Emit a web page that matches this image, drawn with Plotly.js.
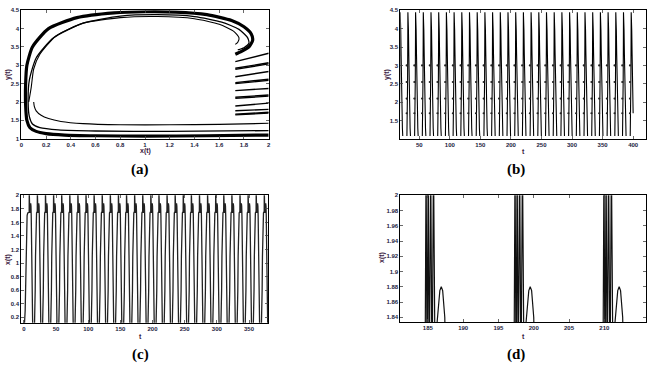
<!DOCTYPE html>
<html>
<head>
<meta charset="utf-8">
<script src="https://cdn.plot.ly/plotly-3.0.1.min.js"></script>
<style>
html, body { margin: 0; padding: 0; background: #fff; }
#chart { width: 662px; height: 368px; }
</style>
</head>
<body>
<div id="chart"></div>
<script>
// (a) phase plane: y(t) against x(t)
const A_OUTER_X = [2.0, 1.5, 1.0, 0.6, 0.35, 0.2, 0.12, 0.07, 0.045, 0.035, 0.035, 0.045, 0.09, 0.22, 0.45, 0.75, 1.0, 1.25, 1.5, 1.7, 1.8, 1.86, 1.87, 1.84, 1.78, 1.73];
const A_OUTER_Y = [1.10, 1.08, 1.07, 1.08, 1.10, 1.14, 1.2, 1.3, 1.5, 1.9, 2.5, 3.0, 3.5, 4.0, 4.3, 4.43, 4.46, 4.45, 4.38, 4.22, 4.05, 3.85, 3.68, 3.5, 3.38, 3.30];
const A_MID_X = [2.0, 1.2, 0.6, 0.3, 0.15, 0.09, 0.065, 0.055, 0.065, 0.12, 0.26, 0.5, 0.8, 1.1, 1.4, 1.62, 1.76, 1.83, 1.84, 1.80, 1.75];
const A_MID_Y = [1.22, 1.20, 1.21, 1.24, 1.3, 1.4, 1.6, 2.0, 2.6, 3.2, 3.75, 4.15, 4.34, 4.38, 4.33, 4.18, 3.98, 3.75, 3.6, 3.48, 3.42];
const A_INNER_X = [0.06, 0.08, 0.1, 0.15, 0.28, 0.5, 0.8, 1.1, 1.4, 1.6, 1.72, 1.76, 1.75, 1.73];
const A_INNER_Y = [2.0, 2.4, 2.9, 3.3, 3.8, 4.15, 4.3, 4.33, 4.27, 4.12, 3.92, 3.75, 3.63, 3.57];
const A_START_X = [0.1, 0.105, 0.12, 0.16, 0.22, 0.32, 0.5, 0.8, 1.2, 1.6, 2.0];
const A_START_Y = [2.0, 1.88, 1.76, 1.64, 1.55, 1.47, 1.41, 1.38, 1.38, 1.39, 1.42];
// short jumps leaving x = 1.73 towards the right border
const A_JUMP_Y0 = [3.10, 2.92, 2.89, 2.69, 2.53, 2.50, 2.31, 2.13, 2.10, 1.89, 1.76, 1.67, 1.65];
const A_JUMP_Y1 = [3.33, 3.07, 3.04, 2.83, 2.62, 2.59, 2.37, 2.19, 2.16, 1.97, 1.80, 1.72, 1.70];
const A_JUMP_X = [1.73, 2.0];

// start of every burst of impulses (t), shared by (b), (c), (d)
const BURSTS = [8.2, 20.8, 33.4, 46.0, 58.6, 71.2, 83.8, 96.4, 109.0, 121.6, 134.2, 146.8, 159.4, 172.0,
    184.6, 197.2, 209.8, 222.4, 235.0, 247.6, 260.2, 272.8, 285.4, 298.0, 310.6, 323.2, 335.8, 348.4,
    361.0, 373.6, 386.2, 398.8];

// (b) one tooth of y(t), offsets from the burst start
const B_DT = [-3.6, -3.0, -2.5, -2.2, -2.0, -1.6, -1.1, -0.5, 0, 0.4, 0.8, 1.2, 1.6, 2.2];
const B_Y  = [1.08, 1.6, 2.6, 3.6, 4.45, 4.3, 3.95, 3.3, 3.0, 2.55, 2.1, 1.7, 1.3, 1.08];
const B_END = 400;
// isolated points left by the impulses
const B_DOT_DT = [-4.0, -4.0, -4.0, -4.0];
const B_DOT_Y  = [3.0, 2.55, 2.1, 1.7];

// (c) and (d) one cycle of x(t), offsets from the burst start
const C_DT = [0, 0.15, 0.3, 0.45, 0.6, 0.8, 1.0, 1.2, 1.4, 1.8, 2.1, 2.3, 2.5, 2.8, 3.2, 3.6, 4.0, 4.4, 4.9, 5.5, 6.2, 6.9, 7.6, 8.3, 8.9, 9.4, 9.9, 10.4, 10.9, 11.5, 12.0];
const C_X  = [1.75, 2.05, 1.74, 2.05, 1.74, 2.05, 1.74, 2.05, 1.8, 1.84, 1.875, 1.88, 1.875, 1.84, 1.7, 1.3, 0.8, 0.4, 0.15, 0.06, 0.035, 0.03, 0.04, 0.09, 0.25, 0.6, 1.1, 1.5, 1.68, 1.74, 1.75];
const C_START_T = [0, 1, 2, 3, 4, 5, 6, 7, 8];
const C_START_X = [0.1, 0.12, 0.3, 0.8, 1.4, 1.7, 1.74, 1.75, 1.75];

function repeatCycle(starts, dt, vals, gap, end) {
    let xs = [], ys = [];
    starts.forEach(s => {
        dt.forEach((d, i) => {
            if (end === undefined || s + d <= end) { xs.push(s + d); ys.push(vals[i]); }
        });
        if (gap) { xs.push(null); ys.push(null); }
    });
    return { xs, ys };
}

function line(x, y, ax, width, color) {
    return { x: x, y: y, xaxis: 'x' + ax, yaxis: 'y' + ax, mode: 'lines', type: 'scatter',
        line: { color: color || '#000', width: width, shape: 'spline', smoothing: 0.6 }, hoverinfo: 'skip' };
}

let data = [];
data.push(line(A_OUTER_X, A_OUTER_Y, '', 3.2));
data.push(line(A_MID_X, A_MID_Y, '', 1.3));
data.push(line(A_INNER_X, A_INNER_Y, '', 1.1));
data.push(line(A_START_X, A_START_Y, '', 1.1));
let jx = [], jy = [];
A_JUMP_Y0.forEach((y0, i) => { jx.push(A_JUMP_X[0], A_JUMP_X[1], null); jy.push(y0, A_JUMP_Y1[i], null); });
data.push({ x: jx, y: jy, mode: 'lines', type: 'scatter', line: { color: '#000', width: 1.4 }, hoverinfo: 'skip' });

let b = repeatCycle(BURSTS, B_DT, B_Y, true, B_END);
data.push({ x: b.xs, y: b.ys, xaxis: 'x2', yaxis: 'y2', mode: 'lines', type: 'scatter',
    line: { color: '#000', width: 1.1 }, hoverinfo: 'skip' });
let bd = repeatCycle(BURSTS, B_DOT_DT, B_DOT_Y, false, B_END);
data.push({ x: bd.xs, y: bd.ys, xaxis: 'x2', yaxis: 'y2', mode: 'markers', type: 'scatter',
    marker: { color: '#222', size: 2.2 }, hoverinfo: 'skip' });

let c = repeatCycle(BURSTS, C_DT, C_X, false);
let ct = C_START_T.concat(c.xs), cx = C_START_X.concat(c.ys);
data.push({ x: ct, y: cx, xaxis: 'x3', yaxis: 'y3', mode: 'lines', type: 'scatter',
    line: { color: '#222', width: 1.3 }, hoverinfo: 'skip' });
data.push({ x: ct, y: cx, xaxis: 'x4', yaxis: 'y4', mode: 'lines', type: 'scatter',
    line: { color: '#111', width: 1.2 }, hoverinfo: 'skip' });

const TICKFONT = { family: 'Liberation Sans, Arial', size: 6, color: '#1c1c40', weight: 'bold' };

function axis(domain, range, vals, texts, anchor) {
    return { domain: domain, range: range, anchor: anchor, tickvals: vals, ticktext: texts,
        ticks: 'inside', ticklen: 3, tickwidth: 0.8, mirror: 'ticks', showline: true,
        linecolor: '#000', linewidth: 1, showgrid: false, zeroline: false, tickfont: TICKFONT };
}

const LABELFONT = { family: 'Liberation Sans, Arial', size: 7, color: '#3a2040', weight: 'bold' };
const PANELFONT = { family: 'Liberation Serif, Times New Roman', size: 15, color: '#000', weight: 'bold' };

function note(text, x, y, font, angle) {
    return { text: text, x: x / 662, y: 1 - y / 368, xref: 'paper', yref: 'paper', showarrow: false,
        font: font, textangle: angle || 0, xanchor: 'center', yanchor: 'middle' };
}

let layout = {
    width: 662, height: 368, margin: { l: 0, r: 0, t: 0, b: 0 },
    paper_bgcolor: '#fff', plot_bgcolor: '#fff', showlegend: false,
    xaxis: axis([0.0322, 0.4059], [0, 2], [0, 0.2, 0.4, 0.6, 0.8, 1, 1.2, 1.4, 1.6, 1.8, 2],
        ['0', '0.2', '0.4', '0.6', '0.8', '1', '1.2', '1.4', '1.6', '1.8', '2'], 'y'),
    yaxis: axis([0.6231, 0.9720], [1, 4.5], [1, 1.5, 2, 2.5, 3, 3.5, 4, 4.5],
        ['1', '1.5', '2', '2.5', '3', '3.5', '4', '4.5'], 'x'),
    xaxis2: axis([0.6047, 0.9758], [19, 421], [50, 100, 150, 200, 250, 300, 350, 400],
        ['50', '100', '150', '200', '250', '300', '350', '400'], 'y2'),
    yaxis2: axis([0.6223, 0.9720], [1, 4.5], [1.5, 2, 2.5, 3, 3.5, 4, 4.5],
        ['1.5', '2', '2.5', '3', '3.5', '4', '4.5'], 'x2'),
    xaxis3: axis([0.0322, 0.4053], [-4, 380], [0, 50, 100, 150, 200, 250, 300, 350],
        ['0', '50', '100', '150', '200', '250', '300', '350'], 'y3'),
    yaxis3: axis([0.1231, 0.4693], [0.12, 2], [0.2, 0.4, 0.6, 0.8, 1, 1.2, 1.4, 1.6, 1.8, 2],
        ['0.2', '0.4', '0.6', '0.8', '1', '1.2', '1.4', '1.6', '1.8', '2'], 'x3'),
    xaxis4: axis([0.6047, 0.9758], [181.1, 215.9], [185, 190, 195, 200, 205, 210],
        ['185', '190', '195', '200', '205', '210'], 'y4'),
    yaxis4: axis([0.1242, 0.4693], [1.8334, 2], [1.84, 1.86, 1.88, 1.9, 1.92, 1.94, 1.96, 1.98, 2],
        ['1.84', '1.86', '1.88', '1.9', '1.92', '1.94', '1.96', '1.98', '2'], 'x4'),
    annotations: [
        note('x(t)', 145, 151, LABELFONT), note('y(t)', 8, 75, LABELFONT, -90),
        note('t', 523, 151, LABELFONT), note('y(t)', 387, 75, LABELFONT, -90),
        note('t', 140, 336, LABELFONT), note('x(t)', 8, 260, LABELFONT, -90),
        note('t', 523, 336, LABELFONT), note('x(t)', 382, 258, LABELFONT, -90),
        note('(a)', 140, 169, PANELFONT), note('(b)', 516, 169, PANELFONT),
        note('(c)', 140, 354, PANELFONT), note('(d)', 516, 354, PANELFONT)
    ]
};

Plotly.newPlot(document.getElementById('chart'), data, layout, { staticPlot: true, displayModeBar: false });
</script>
</body>
</html>
